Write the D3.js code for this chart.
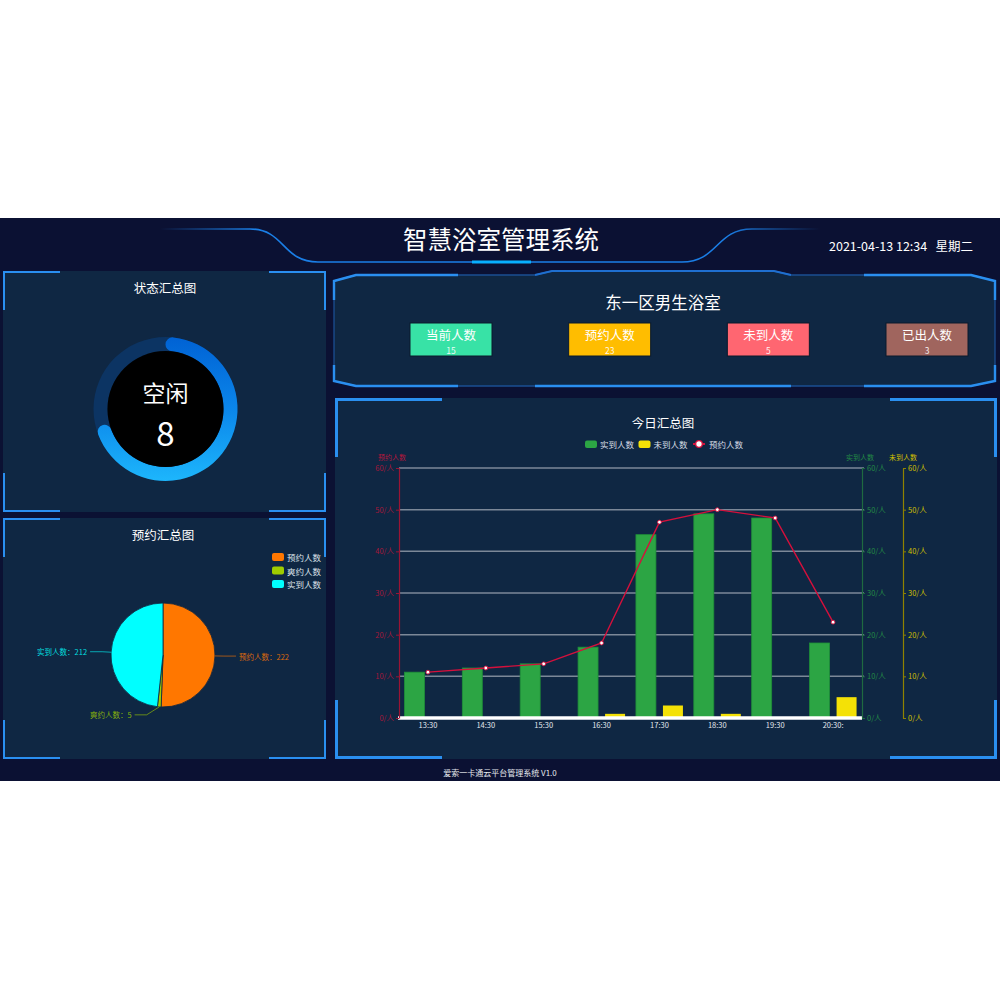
<!DOCTYPE html>
<html>
<head>
<meta charset="utf-8">
<script src="https://cdn.jsdelivr.net/npm/d3@7/dist/d3.min.js"></script>
<style>
html,body{margin:0;padding:0;background:#fff;}
svg{display:block;}
text{font-family:"Noto Sans CJK SC","Noto Sans",sans-serif;}
</style>
</head>
<body>
<svg id="c" width="1000" height="1000"></svg>
<script>
// ---------- data ----------
const pageTitle = "智慧浴室管理系统";
const dateText = "2021-04-13 12:34";
const weekText = "星期二";
const footerText = "爱索一卡通云平台管理系统 V1.0";

const statusTitle = "状态汇总图";
const idleLabel = "空闲";
const idleCount = 8;
const gaugeFraction = 0.71;

const pieTitle = "预约汇总图";
const pieLabels = ["预约人数", "爽约人数", "实到人数"];
const pieValues = [222, 5, 212];
const pieColors = ["#ff7700", "#9fcc00", "#00ffff"];

const roomTitle = "东一区男生浴室";
const cardLabels = ["当前人数", "预约人数", "未到人数", "已出人数"];
const cardValues = [15, 23, 5, 3];
const cardColors = ["#38e2a6", "#ffbd00", "#ff6671", "#a0655e"];

const barTitle = "今日汇总图";
const timeLabels = ["13:30", "14:30", "15:30", "16:30", "17:30", "18:30", "19:30", "20:30:"];
const actualCounts = [11, 12, 13, 17, 44, 49, 48, 18];
const absentCounts = [0, 0, 0, 1, 3, 1, 0, 5];
const reservedCounts = [11, 12, 13, 18, 47, 50, 48, 23];
const seriesNames = ["实到人数", "未到人数", "预约人数"];
const axisMax = 60;
const axisTicks = [0, 10, 20, 30, 40, 50, 60];
const tickUnit = "/人";

// ---------- drawing ----------
const svg = d3.select("#c");
const defs = svg.append("defs");
const BG = "#0b1133", PANEL = "#0f2743", BR = "#2a8ff0";

svg.append("rect").attr("x", 0).attr("y", 218).attr("width", 1000).attr("height", 563).attr("fill", BG);

// header line
const hg = defs.append("linearGradient").attr("id", "hg").attr("gradientUnits", "userSpaceOnUse")
  .attr("x1", 160).attr("x2", 820).attr("y1", 0).attr("y2", 0);
hg.append("stop").attr("offset", 0).attr("stop-color", "#1a7ee6").attr("stop-opacity", 0);
hg.append("stop").attr("offset", 0.14).attr("stop-color", "#1a7ee6").attr("stop-opacity", 1);
hg.append("stop").attr("offset", 0.86).attr("stop-color", "#1a7ee6").attr("stop-opacity", 1);
hg.append("stop").attr("offset", 1).attr("stop-color", "#1a7ee6").attr("stop-opacity", 0);
svg.append("path").attr("d", "M160,229 L250,229 C285,229 282,262 318,262 L682,262 C718,262 716,229 752,229 L820,229")
  .attr("fill", "none").attr("stroke", "url(#hg)").attr("stroke-width", 1.6);
svg.append("line").attr("x1", 472).attr("x2", 531).attr("y1", 262).attr("y2", 262)
  .attr("stroke", "#08b0ff").attr("stroke-width", 3);

svg.append("text").attr("x", 501).attr("y", 249).attr("text-anchor", "middle")
  .attr("fill", "#fff").attr("font-size", 24.5).text(pageTitle);
svg.append("text").attr("x", 829).attr("y", 251).attr("fill", "#fff").attr("font-size", 12.5)
  .text(dateText);
svg.append("text").attr("x", 973).attr("y", 251).attr("text-anchor", "end").attr("fill", "#fff").attr("font-size", 12.5)
  .text(weekText);

// bracket helper
function brackets(x0, y0, x1, y1, lh, lv, w) {
  const g = svg.append("g").attr("fill", "none").attr("stroke", BR).attr("stroke-width", w);
  const o = w / 2;
  g.append("path").attr("d", `M${x0 + o},${y0 + lv} L${x0 + o},${y0 + o} L${x0 + lh},${y0 + o}`);
  g.append("path").attr("d", `M${x1 - lh},${y0 + o} L${x1 - o},${y0 + o} L${x1 - o},${y0 + lv}`);
  g.append("path").attr("d", `M${x0 + o},${y1 - lv} L${x0 + o},${y1 - o} L${x0 + lh},${y1 - o}`);
  g.append("path").attr("d", `M${x1 - lh},${y1 - o} L${x1 - o},${y1 - o} L${x1 - o},${y1 - lv}`);
}

// ---------- panel 1: gauge ----------
svg.append("rect").attr("x", 3).attr("y", 271).attr("width", 323).attr("height", 241).attr("fill", PANEL);
brackets(3, 271, 326, 512, 57, 39, 2);
svg.append("text").attr("x", 165).attr("y", 293).attr("text-anchor", "middle").attr("fill", "#fff")
  .attr("font-size", 12.5).text(statusTitle);

const gc = { x: 165.5, y: 409 };
const gg = defs.append("linearGradient").attr("id", "gg").attr("gradientUnits", "userSpaceOnUse")
  .attr("x1", 0).attr("x2", 0).attr("y1", -72).attr("y2", 72);
gg.append("stop").attr("offset", 0).attr("stop-color", "#0062d4");
gg.append("stop").attr("offset", 0.5).attr("stop-color", "#0b86ea");
gg.append("stop").attr("offset", 1).attr("stop-color", "#1db6fc");
const gG = svg.append("g").attr("transform", `translate(${gc.x},${gc.y})`);
gG.append("path").attr("d", d3.arc().innerRadius(58).outerRadius(72).startAngle(0).endAngle(2 * Math.PI)())
  .attr("fill", "#0c3463");
gG.append("path").attr("d", d3.arc().innerRadius(58).outerRadius(72).startAngle(0)
  .endAngle(2 * Math.PI * gaugeFraction).cornerRadius(7)())
  .attr("fill", "url(#gg)");
gG.append("circle").attr("r", 58).attr("fill", "#000");
gG.append("text").attr("y", -17).attr("text-anchor", "middle").attr("dominant-baseline", "central")
  .attr("fill", "#fff").attr("font-size", 23).text(idleLabel);
gG.append("text").attr("y", 23).attr("text-anchor", "middle").attr("dominant-baseline", "central")
  .attr("fill", "#fff").attr("font-size", 33).attr("font-family", "'Noto Sans',sans-serif").text(idleCount);

// ---------- panel 2: pie ----------
svg.append("rect").attr("x", 3).attr("y", 518).attr("width", 323).attr("height", 241).attr("fill", PANEL);
brackets(3, 518, 326, 759, 57, 39, 2);
svg.append("text").attr("x", 163).attr("y", 540).attr("text-anchor", "middle").attr("fill", "#fff")
  .attr("font-size", 12.5).text(pieTitle);

const leg = svg.append("g");
pieLabels.forEach((l, i) => {
  const y = 557 + i * 13.5;
  leg.append("rect").attr("x", 272).attr("y", y - 4).attr("width", 12).attr("height", 8).attr("rx", 2)
    .attr("fill", pieColors[i]);
  leg.append("text").attr("x", 287).attr("y", y).attr("dominant-baseline", "central")
    .attr("fill", "#dde3ea").attr("font-size", 8.5).text(l);
});

const pc = { x: 163, y: 655 }, pr = 52;
const pieData = d3.pie().sort(null).value(d => d)(pieValues);
const pG = svg.append("g").attr("transform", `translate(${pc.x},${pc.y})`);
pG.selectAll("path.s").data(pieData).join("path").attr("class", "s")
  .attr("d", d3.arc().innerRadius(0).outerRadius(pr))
  .attr("fill", (d, i) => pieColors[i]).attr("stroke", "#0e2440").attr("stroke-width", 0.8);
const aIn = d3.arc().innerRadius(pr).outerRadius(pr);
const aOut = d3.arc().innerRadius(pr + 9).outerRadius(pr + 9);
pieData.forEach((d, i) => {
  const p1 = aIn.centroid(d), p2 = aOut.centroid(d);
  const mid = (d.startAngle + d.endAngle) / 2;
  const right = mid < Math.PI;
  let p2b = p2;
  if (Math.abs(mid - Math.PI) < 0.3) p2b = [p2[0] - 12, p2[1] - 1];
  const p3 = [p2b[0] + (right ? 12 : -12), p2b[1]];
  pG.append("polyline").attr("points", [p1, p2b, p3].map(p => p.join(",")).join(" "))
    .attr("fill", "none").attr("stroke", pieColors[i]).attr("stroke-opacity", 0.6).attr("stroke-width", 1);
  pG.append("text").attr("x", p3[0] + (right ? 3 : -3)).attr("y", p3[1])
    .attr("text-anchor", right ? "start" : "end").attr("dominant-baseline", "central")
    .attr("fill", pieColors[i]).attr("fill-opacity", 0.85).attr("font-size", 7.5)
    .text(pieLabels[i] + "：" + pieValues[i]);
});

// ---------- panel 3: room cards ----------
const outline = "M334,281 L356,275 L535,275 L552,271 L774,271 L791,275 L971,275 L995,281 L995,381 L971,386 L356,386 L334,381 Z";
svg.append("path").attr("d", outline).attr("fill", PANEL).attr("stroke", "#1b4f92").attr("stroke-width", 1.3);
const bright = [
  "M334,300 L334,281 L356,275 L458,275",
  "M334,365 L334,381 L356,386 L458,386",
  "M864,275 L971,275 L995,281 L995,300",
  "M995,365 L995,381 L971,386 L864,386",
  "M535,386 L791,386",
  "M535,275 L552,271 L774,271 L791,275"
];
svg.append("g").selectAll("path").data(bright).join("path").attr("d", d => d)
  .attr("fill", "none").attr("stroke", (d, i) => i === 5 ? "#1f6fd0" : BR).attr("stroke-width", (d, i) => i === 5 ? 1.8 : 2.4);
svg.append("text").attr("x", 663).attr("y", 302).attr("text-anchor", "middle").attr("dominant-baseline", "central")
  .attr("fill", "#fff").attr("font-size", 16.5).text(roomTitle);
const cardX = d3.scalePoint().domain(cardLabels).range([451, 927]);
cardLabels.forEach((l, i) => {
  const cx = cardX(l);
  svg.append("rect").attr("x", cx - 41).attr("y", 323).attr("width", 82).attr("height", 33)
    .attr("fill", cardColors[i]).attr("stroke", "#0a1a2c").attr("stroke-width", 1);
  svg.append("text").attr("x", cx).attr("y", 334).attr("text-anchor", "middle").attr("dominant-baseline", "central")
    .attr("fill", "#fff").attr("font-size", 12.5).text(l);
  svg.append("text").attr("x", cx).attr("y", 350).attr("text-anchor", "middle").attr("dominant-baseline", "central")
    .attr("fill", "#fff").attr("fill-opacity", 0.9).attr("font-size", 8.5).text(cardValues[i]);
});

// ---------- panel 4: bar chart ----------
svg.append("rect").attr("x", 335).attr("y", 398).attr("width", 662).attr("height", 361).attr("fill", PANEL);
brackets(335, 398, 997, 759, 107, 59, 3);
svg.append("text").attr("x", 663).attr("y", 422).attr("text-anchor", "middle").attr("dominant-baseline", "central")
  .attr("fill", "#fff").attr("font-size", 12.5).text(barTitle);

// legend
const RED = "#d5103c", GREEN = "#2ca544", YEL = "#f4e106";
const lg = svg.append("g").attr("font-size", 8.5);
lg.append("rect").attr("x", 585).attr("y", 440.5).attr("width", 12).attr("height", 7.5).attr("rx", 2).attr("fill", GREEN);
lg.append("text").attr("x", 600).attr("y", 444).attr("dominant-baseline", "central").attr("fill", "#d8dee6").text(seriesNames[0]);
lg.append("rect").attr("x", 638.5).attr("y", 440.5).attr("width", 12).attr("height", 7.5).attr("rx", 2).attr("fill", YEL);
lg.append("text").attr("x", 653.5).attr("y", 444).attr("dominant-baseline", "central").attr("fill", "#d8dee6").text(seriesNames[1]);
lg.append("line").attr("x1", 693).attr("x2", 705).attr("y1", 444).attr("y2", 444).attr("stroke", RED).attr("stroke-width", 2);
lg.append("circle").attr("cx", 699).attr("cy", 444).attr("r", 3.3).attr("fill", "#fff").attr("stroke", RED).attr("stroke-width", 1.3);
lg.append("text").attr("x", 709).attr("y", 444).attr("dominant-baseline", "central").attr("fill", "#d8dee6").text(seriesNames[2]);

const X0 = 399, X1 = 862, Y0 = 718, Y1 = 468;
const x = d3.scaleBand().domain(timeLabels).range([X0, X1]);
const y = d3.scaleLinear().domain([0, axisMax]).range([Y0, Y1]);
const sub = d3.scaleBand().domain(["a", "b"]).range([-23.5, 23.5]).paddingInner(0.26);
const cx = d => x(d) + x.bandwidth() / 2;

// grid
svg.append("g").selectAll("line").data(axisTicks.filter(t => t > 0)).join("line")
  .attr("x1", X0).attr("x2", X1 + 2).attr("y1", d => y(d)).attr("y2", d => y(d))
  .attr("stroke", "#7c8898").attr("stroke-width", 1.5);

// bars
svg.append("g").selectAll("rect").data(timeLabels).join("rect")
  .attr("x", d => cx(d) + sub("a")).attr("width", sub.bandwidth())
  .attr("y", (d, i) => y(actualCounts[i])).attr("height", (d, i) => Y0 - y(actualCounts[i]))
  .attr("fill", GREEN).attr("stroke", "#1f8f38").attr("stroke-width", 0.8);
svg.append("g").selectAll("rect").data(timeLabels).join("rect")
  .attr("x", d => cx(d) + sub("b")).attr("width", sub.bandwidth())
  .attr("y", (d, i) => y(absentCounts[i])).attr("height", (d, i) => Y0 - y(absentCounts[i]))
  .attr("fill", YEL);

// x axis (white thick line + labels)
svg.append("line").attr("x1", X0 - 1).attr("x2", X1).attr("y1", Y0).attr("y2", Y0)
  .attr("stroke", "#fff").attr("stroke-width", 3.5);
const xAx = svg.append("g").attr("transform", `translate(0,${Y0 + 2})`)
  .call(d3.axisBottom(x).tickSize(0).tickPadding(3));
xAx.select(".domain").remove();
xAx.selectAll("text").attr("fill", "#e3e8ee").attr("font-size", 7.5)
  .attr("font-family", "'Noto Sans CJK SC',sans-serif");

// line
svg.append("path").datum(reservedCounts)
  .attr("d", d3.line().x((d, i) => cx(timeLabels[i])).y(d => y(d)))
  .attr("fill", "none").attr("stroke", RED).attr("stroke-width", 1.4);
svg.append("g").selectAll("circle").data(reservedCounts).join("circle")
  .attr("cx", (d, i) => cx(timeLabels[i])).attr("cy", d => y(d)).attr("r", 1.9)
  .attr("fill", "#fff").attr("stroke", RED).attr("stroke-width", 0.9);

// y axes
function styleAxis(g, lineCol, textCol) {
  g.select(".domain").attr("stroke", lineCol).attr("stroke-width", 1.2);
  g.selectAll(".tick line").attr("stroke", lineCol);
  g.selectAll("text").attr("fill", textCol).attr("font-size", 7.5)
    .attr("font-family", "'Noto Sans CJK SC',sans-serif");
}
const fmt = d => d + tickUnit;
const yl = svg.append("g").attr("transform", `translate(${X0},0)`)
  .call(d3.axisLeft(y).tickValues(axisTicks).tickFormat(fmt).tickSize(3).tickSizeOuter(0).tickPadding(2));
styleAxis(yl, "#9b1434", "#a5173b");
const yr = svg.append("g").attr("transform", `translate(${X1},0)`)
  .call(d3.axisRight(y).tickValues(axisTicks).tickFormat(fmt).tickSize(3).tickSizeOuter(0).tickPadding(2));
styleAxis(yr, "#1e6a40", "#238a45");
const yy = svg.append("g").attr("transform", `translate(903,0)`)
  .call(d3.axisRight(y).tickValues(axisTicks).tickFormat(fmt).tickSize(3).tickSizeOuter(0).tickPadding(2));
styleAxis(yy, "#8f8200", "#d2c000");

svg.append("text").attr("x", 392).attr("y", 457).attr("text-anchor", "middle").attr("dominant-baseline", "central")
  .attr("fill", "#b8163c").attr("font-size", 7).text(seriesNames[2]);
svg.append("text").attr("x", 860).attr("y", 457).attr("text-anchor", "middle").attr("dominant-baseline", "central")
  .attr("fill", "#238a45").attr("font-size", 7).text(seriesNames[0]);
svg.append("text").attr("x", 903).attr("y", 457).attr("text-anchor", "middle").attr("dominant-baseline", "central")
  .attr("fill", "#d2c000").attr("font-size", 7).text(seriesNames[1]);

// footer
svg.append("text").attr("x", 500).attr("y", 772).attr("text-anchor", "middle").attr("dominant-baseline", "central")
  .attr("fill", "#e6e9ee").attr("font-size", 8).text(footerText);
</script>
</body>
</html>
